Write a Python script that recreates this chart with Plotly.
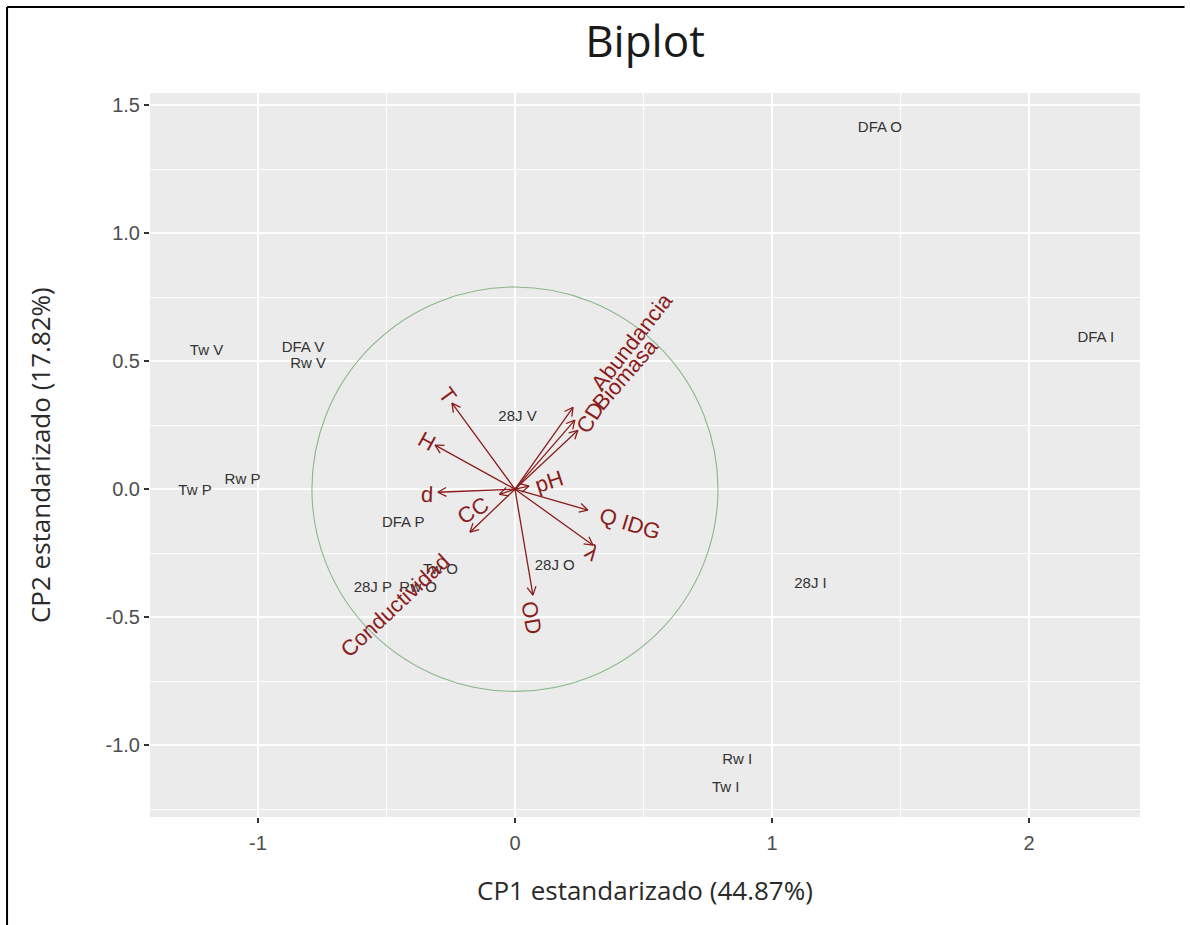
import numpy as np
import plotly.graph_objects as go

# ---- observations (scores) ----
obs_labels = ["DFA O", "DFA I", "Tw V", "DFA V", "Rw V", "Tw P", "Rw P", "28J V",
              "DFA P", "Tw O", "28J P", "Rw O", "28J O", "28J I", "Rw I", "Tw I"]
obs_cp1 = [1.42, 2.26, -1.20, -0.825, -0.805, -1.245, -1.06, 0.01,
           -0.435, -0.29, -0.553, -0.377, 0.155, 1.15, 0.865, 0.82]
obs_cp2 = [1.41, 0.59, 0.54, 0.55, 0.49, -0.01, 0.035, 0.28,
           -0.135, -0.316, -0.387, -0.387, -0.30, -0.37, -1.06, -1.17]

# ---- variables (loadings) ----
var_names = ["Abundancia", "Biomasa", "CD", "T", "H", "d", "CC", "Conductividad",
             "pH", "Q IDG", "λ", "OD"]
var_cp1 = [0.226, 0.245, 0.233, -0.245, -0.311, -0.30, -0.06, -0.175, 0.055, 0.284, 0.304, 0.070]
var_cp2 = [0.320, 0.230, 0.270, 0.336, 0.172, -0.012, -0.02, -0.168, 0.012, -0.082, -0.219, -0.414]
var_label_cp1 = [0.455, 0.428, 0.292, -0.261, -0.342, -0.342, -0.163, -0.467, 0.132, 0.447, 0.300, 0.066]
var_label_cp2 = [0.578, 0.449, 0.281, 0.367, 0.1875, -0.02, -0.082, -0.453, 0.031, -0.133, -0.246, -0.504]
var_label_angle = [-52, -49, -58, 54, 29, 2, -30, -43, -18, 17, 36, 80]
circle_radius = 0.79

x_ticks = [-1, 0, 1, 2]
y_ticks = [-1.0, -0.5, 0.0, 0.5, 1.0, 1.5]

DARKRED = "#8B1C1C"

fig = go.Figure()

# circle
fig.add_shape(type="circle", xref="x", yref="y",
              x0=-circle_radius, y0=-circle_radius, x1=circle_radius, y1=circle_radius,
              line=dict(color="#8DB58D", width=1.1), layer="above")

# arrows: shafts and open heads
px_per_unit = 256.5
head_len = 9.5 / px_per_unit
head_ang = np.deg2rad(28)
ax, ay = [], []
for x, y in zip(var_cp1, var_cp2):
    ax += [0, x, None]
    ay += [0, y, None]
    th = np.arctan2(y, x)
    for s in (1, -1):
        ax += [x, x - head_len * np.cos(th + s * head_ang), None]
        ay += [y, y - head_len * np.sin(th + s * head_ang), None]
fig.add_trace(go.Scatter(x=ax, y=ay, mode="lines",
                         line=dict(color=DARKRED, width=1.3),
                         hoverinfo="skip", showlegend=False))

# observation labels
fig.add_trace(go.Scatter(x=obs_cp1, y=obs_cp2, mode="text", text=obs_labels,
                         textposition="middle center",
                         textfont=dict(family="Liberation Sans, Arial", size=15, color="#333333"),
                         showlegend=False))

# variable labels
for name, lx, ly, ang in zip(var_names, var_label_cp1, var_label_cp2, var_label_angle):
    fig.add_annotation(x=lx, y=ly, xref="x", yref="y", text=name, showarrow=False,
                       textangle=ang, xanchor="center", yanchor="middle",
                       font=dict(family="Liberation Sans, Arial", size=22, color=DARKRED))

# axis titles
fig.add_annotation(x=0.5, y=-0.1008, xref="paper", yref="paper",
                   text="CP1 estandarizado (44.87%)", showarrow=False,
                   xanchor="center", yanchor="middle",
                   font=dict(family="Open Sans", size=26, color="#2a2a2a"))
fig.add_annotation(x=-0.111, y=0.5, xref="paper", yref="paper",
                   text="CP2 estandarizado (17.82%)", showarrow=False, textangle=-90,
                   xanchor="center", yanchor="middle",
                   font=dict(family="Open Sans", size=26, color="#2a2a2a"))

# image frame (top and left)
fig.add_shape(type="line", xref="paper", yref="paper", x0=-0.1444, x1=1.045, y0=1.1188, y1=1.1188,
              line=dict(color="black", width=2))
fig.add_shape(type="line", xref="paper", yref="paper", x0=-0.1444, x1=-0.1444, y0=-0.16, y1=1.1188,
              line=dict(color="black", width=2))

fig.update_layout(
    width=1190, height=925,
    margin=dict(l=150, r=50, t=93, b=108),
    paper_bgcolor="white", plot_bgcolor="#EBEBEB",
    title=dict(text="Biplot", x=0.5, xref="paper", xanchor="center",
               y=1 - 42 / 925, yref="container", yanchor="middle",
               font=dict(family="Open Sans", size=44, color="#1a1a1a")),
    showlegend=False,
)
fig.update_xaxes(range=[-1.42, 2.432], tickvals=x_ticks, ticktext=[str(v) for v in x_ticks],
                 showgrid=True, gridcolor="white", gridwidth=2, zeroline=False,
                 ticks="outside", ticklen=5, tickwidth=1.5, tickcolor="#333333",
                 tickfont=dict(family="Liberation Sans, Arial", size=20, color="#4D4D4D"),
                 ticklabelstandoff=3,
                 minor=dict(dtick=0.5, tick0=0, showgrid=True, gridcolor="white", gridwidth=1.1, ticks=""),
                 showline=False, fixedrange=True)
fig.update_yaxes(range=[-1.281, 1.548], tickvals=y_ticks, ticktext=[f"{v:.1f}" for v in y_ticks],
                 showgrid=True, gridcolor="white", gridwidth=2, zeroline=False,
                 ticks="outside", ticklen=5, tickwidth=1.5, tickcolor="#333333",
                 tickfont=dict(family="Liberation Sans, Arial", size=20, color="#4D4D4D"),
                 ticklabelstandoff=0,
                 minor=dict(dtick=0.25, tick0=0, showgrid=True, gridcolor="white", gridwidth=1.1, ticks=""),
                 showline=False, fixedrange=True)

fig.write_html("out.html", config={"displayModeBar": False})
